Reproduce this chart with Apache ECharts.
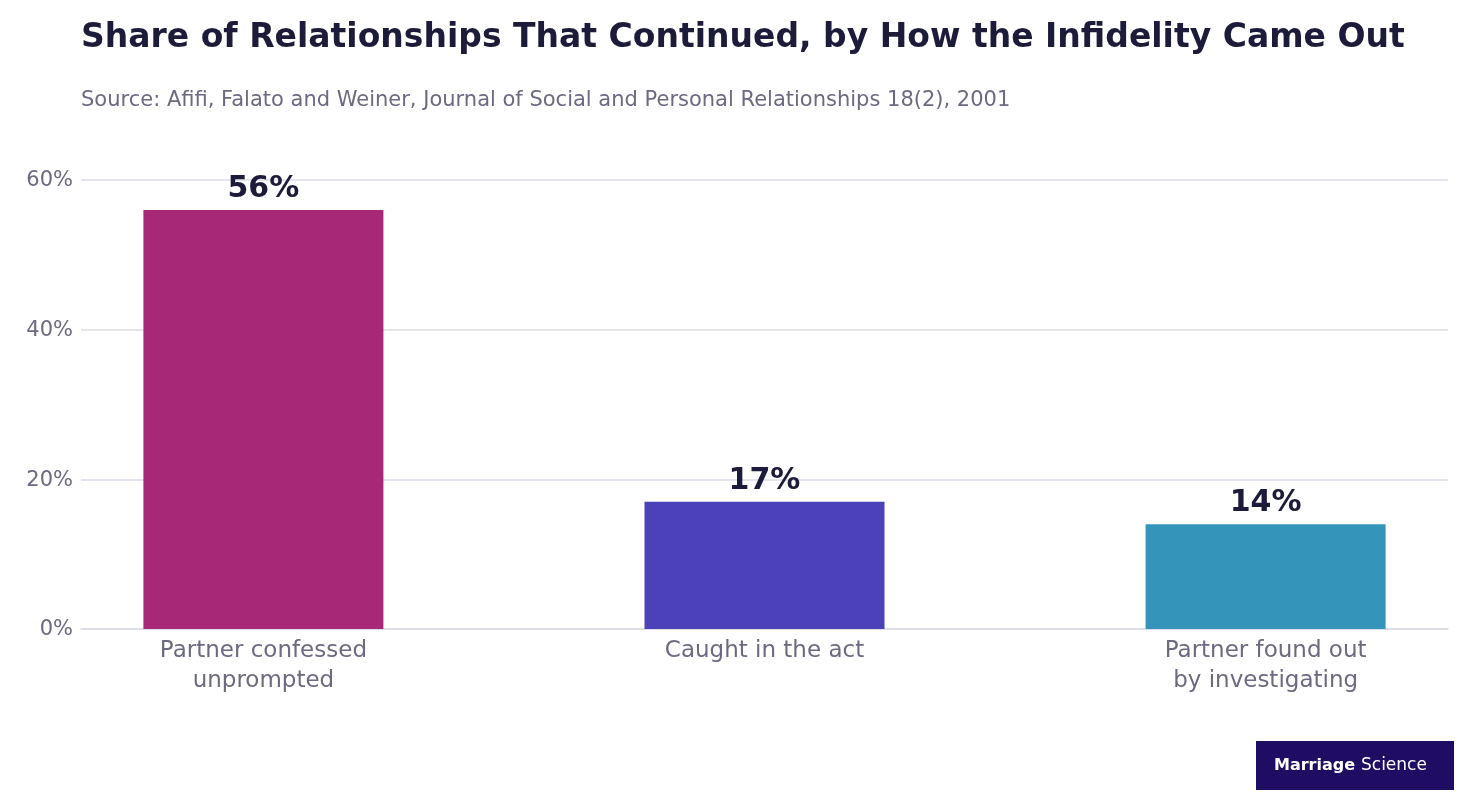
<!DOCTYPE html>
<html>
<head>
<meta charset="utf-8">
<script src="https://cdn.jsdelivr.net/npm/echarts@6/dist/echarts.min.js"></script>
<style>
html,body{margin:0;padding:0;background:#fff;}
#main{width:1472px;height:800px;}
</style>
</head>
<body>
<div id="main"></div>
<script>
var categories = ['Partner confessed\nunprompted', 'Caught in the act', 'Partner found out\nby investigating'];
var values = [56, 17, 14];
var barColors = ['#a82878', '#4b41b8', '#3594ba'];
var yTicks = [0, 20, 40, 60];

var titleText = 'Share of Relationships That Continued, by How the Infidelity Came Out';
var subText = 'Source: Afifi, Falato and Weiner, Journal of Social and Personal Relationships 18(2), 2001';
var dark = '#1d1b3a';
var grey = '#6b6a80';

var chart = echarts.init(document.getElementById('main'));

// font size that makes a string a given width in DejaVu
function fitSize(text, weight, width) {
	var ctx = document.createElement('canvas').getContext('2d');
	ctx.font = weight + ' 100px DejaVu Sans';
	return 100 * width / ctx.measureText(text).width;
}

var seriesData = [];
for (var i = 0; i < values.length; i++) {
	seriesData.push({value: [i, values[i]], itemStyle: {color: barColors[i]}});
}
chart.setOption({
	backgroundColor: '#ffffff',
	animation: false,
	grid: {left: 81, right: 24, top: 180, bottom: 171},
	xAxis: {
		type: 'value',
		min: -0.364, max: 2.364,
		splitLine: {show: false},
		axisTick: {show: false},
		axisLabel: {show: false},
		axisLine: {show: true, lineStyle: {color: '#dcdbe8', width: 1.5}}
	},
	yAxis: {
		type: 'value',
		min: 0, max: 60, interval: 20,
		axisLine: {show: false},
		axisTick: {show: false},
		axisLabel: {show: false},
		splitLine: {lineStyle: {color: '#dcdbe8', width: 1.5}}
	},
	series: [{
		type: 'bar',
		barWidth: 240,
		data: seriesData
	}]
});

// texts are drawn as graphic elements so the DejaVu font is used
var g = [];
var ts = fitSize(titleText, 'bold', 1322);
var ss = fitSize(subText, 'normal', 932);
g.push({type: 'text', x: 81, y: 38, style: {text: titleText, font: 'bold ' + Math.round(ts) + 'px DejaVu Sans', fill: dark, verticalAlign: 'middle'}});
g.push({type: 'text', x: 81, y: 101, style: {text: subText, font: Math.round(ss) + 'px DejaVu Sans', fill: grey, verticalAlign: 'middle'}});
yTicks.forEach(function (t) {
	var p = chart.convertToPixel({gridIndex: 0}, [0, t]);
	g.push({type: 'text', x: 73, y: p[1] + 1, style: {text: t + '%', font: '21px DejaVu Sans', fill: grey, align: 'right', verticalAlign: 'middle'}});
});
for (var j = 0; j < values.length; j++) {
	var barTop = chart.convertToPixel({gridIndex: 0}, [j, values[j]]);
	var barBase = chart.convertToPixel({gridIndex: 0}, [j, 0]);
	g.push({type: 'text', x: barTop[0], y: barTop[1] - 21, style: {text: values[j] + '%', font: 'bold 30px DejaVu Sans', fill: dark, align: 'center', verticalAlign: 'middle'}});
	var lines = categories[j].split('\n');
	for (var k = 0; k < lines.length; k++) {
		g.push({type: 'text', x: barBase[0], y: barBase[1] + 22 + k * 30, style: {text: lines[k], font: '23px DejaVu Sans', fill: grey, align: 'center', verticalAlign: 'middle'}});
	}
}
g.push({type: 'rect', x: 1256, y: 741, shape: {width: 198, height: 49}, style: {fill: '#1f0d63'}});
g.push({type: 'text', x: 1274, y: 766, style: {text: 'Marriage', font: 'bold 16px DejaVu Sans', fill: '#ffffff', verticalAlign: 'middle'}});
g.push({type: 'text', x: 1361, y: 766, style: {text: 'Science', font: '17px DejaVu Sans', fill: '#ffffff', verticalAlign: 'middle'}});
chart.setOption({graphic: g});
</script>
</body>
</html>
